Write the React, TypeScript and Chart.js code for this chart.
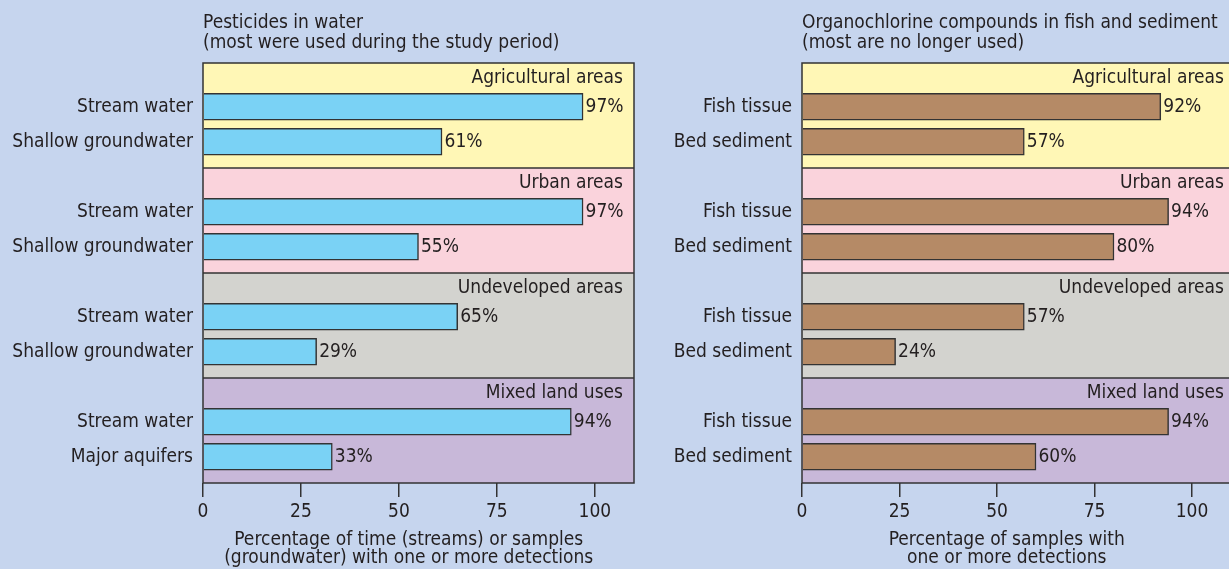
import React, { useEffect, useRef } from 'react';
import { Chart, registerables } from 'chart.js';
Chart.register(...registerables);

const sectionNames = ['Agricultural areas', 'Urban areas', 'Undeveloped areas', 'Mixed land uses'];
const sectionColors = ['#fff7b6', '#fad3dc', '#d3d3cf', '#c8b8d9'];

const pesticideLabels = ['Stream water', 'Shallow groundwater', 'Stream water', 'Shallow groundwater', 'Stream water', 'Shallow groundwater', 'Stream water', 'Major aquifers'];
const pesticideValues = [97, 61, 97, 55, 65, 29, 94, 33];
const organoLabels = ['Fish tissue', 'Bed sediment', 'Fish tissue', 'Bed sediment', 'Fish tissue', 'Bed sediment', 'Fish tissue', 'Bed sediment'];
const organoValues = [92, 57, 94, 80, 57, 24, 94, 60];
const xTickValues = [0, 25, 50, 75, 100];

const pesticideTitle = ['Pesticides in water', '(most were used during the study period)'];
const pesticideAxisTitle = ['Percentage of time (streams) or samples', '(groundwater) with one or more detections'];
const organoTitle = ['Organochlorine compounds in fish and sediment', '(most are no longer used)'];
const organoAxisTitle = ['Percentage of samples with', 'one or more detections'];

const FONT = '"DejaVu Sans Condensed", "DejaVu Sans", sans-serif';
const TEXT = '#231f20';
const LINE = '#333333';
const ROWS = 6;
const BAR_ROWS = [2, 4];

function buildRows(labels: string[], values: number[]) {
  const rowLabels: string[] = [];
  const rowValues: (number | null)[] = [];
  sectionNames.forEach((_, k) => {
    for (let r = 0; r < ROWS; r++) {
      const b = BAR_ROWS.indexOf(r);
      if (b >= 0) {
        rowLabels.push(labels[k * 2 + b]);
        rowValues.push(values[k * 2 + b]);
      } else {
        rowLabels.push('');
        rowValues.push(null);
      }
    }
  });
  return { rowLabels, rowValues };
}

const sectionPlugin = {
  id: 'sections',
  beforeDatasetsDraw(chart: any) {
    const ctx = chart.ctx;
    const y = chart.scales.y;
    const { left, right } = chart.chartArea;
    const rowH = y.getPixelForValue(1) - y.getPixelForValue(0);
    ctx.save();
    sectionNames.forEach((_, k) => {
      const top = y.getPixelForValue(k * ROWS) - rowH / 2;
      const bottom = y.getPixelForValue(k * ROWS + ROWS - 1) + rowH / 2;
      ctx.fillStyle = sectionColors[k];
      ctx.fillRect(left, top, right - left, bottom - top);
    });
    ctx.restore();
  },
  afterDatasetsDraw(chart: any) {
    const ctx = chart.ctx;
    const y = chart.scales.y;
    const x = chart.scales.x;
    const { left, right, top: aTop, bottom: aBottom } = chart.chartArea;
    const rowH = y.getPixelForValue(1) - y.getPixelForValue(0);
    const inset: number = chart.options.plugins.axisTitle.inset;
    ctx.save();
    ctx.strokeStyle = LINE;
    ctx.lineWidth = 1.5;
    ctx.font = `19px ${FONT}`;
    sectionNames.forEach((name, k) => {
      const top = y.getPixelForValue(k * ROWS) - rowH / 2;
      if (k > 0) {
        ctx.beginPath();
        ctx.moveTo(left, top);
        ctx.lineTo(right, top);
        ctx.stroke();
      }
      ctx.fillStyle = TEXT;
      ctx.textAlign = 'right';
      ctx.textBaseline = 'middle';
      ctx.fillText(name, right - inset, top + 15);
    });
    ctx.strokeRect(left, aTop, right - left, aBottom - aTop);
    const meta = chart.getDatasetMeta(0);
    const data = chart.data.datasets[0].data;
    ctx.textAlign = 'left';
    ctx.textBaseline = 'middle';
    ctx.fillStyle = TEXT;
    meta.data.forEach((bar: any, i: number) => {
      const v = data[i];
      if (v === null || v === undefined) return;
      ctx.fillText(`${v}%`, bar.x + 2.5, bar.y);
    });
    // x-axis title (two centered lines)
    const lines: string[] = chart.options.plugins.axisTitle.lines;
    const cx = x.getPixelForValue(52.5);
    ctx.textAlign = 'center';
    lines.forEach((ln, i) => {
      ctx.fillText(ln, cx, 540 + i * 18);
    });
    ctx.restore();
  },
};

function makeChart(
  canvas: HTMLCanvasElement,
  labels: string[],
  values: number[],
  color: string,
  title: string[],
  axisTitle: string[],
  padding: { left: number; right: number },
  yWidth: number,
  inset: number
) {
  const { rowLabels, rowValues } = buildRows(labels, values);
  return new Chart(canvas, {
    type: 'bar',
    data: {
      labels: rowLabels,
      datasets: [
        {
          data: rowValues,
          backgroundColor: color,
          borderColor: LINE,
          borderWidth: 1.5,
          barThickness: 27,
        },
      ],
    },
    options: {
      indexAxis: 'y',
      responsive: false,
      animation: false,
      layout: { padding: { left: padding.left, right: padding.right, top: 0, bottom: 0 } },
      plugins: {
        legend: { display: false },
        tooltip: { enabled: false },
        axisTitle: { lines: axisTitle, inset },
        title: {
          display: true,
          text: title,
          align: 'start',
          fullSize: false,
          color: TEXT,
          font: { family: FONT, size: 19, lineHeight: 20 / 19, weight: 'normal' },
          padding: { top: 13, bottom: 10 },
        },
      },
      scales: {
        x: {
          type: 'linear',
          min: 0,
          max: 110,
          afterBuildTicks: (scale: any) => {
            scale.ticks = xTickValues.map((v) => ({ value: v }));
          },
          afterFit: (scale: any) => {
            scale.height = 86;
          },
          grid: {
            drawOnChartArea: false,
            drawTicks: true,
            tickLength: 14,
            color: LINE,
            lineWidth: 1.5,
          },
          border: { display: false },
          ticks: {
            color: TEXT,
            padding: 4,
            font: { family: FONT, size: 19 },
            callback: (v: any) => String(v),
          },
          title: { display: false },
        },
        y: {
          type: 'category',
          afterFit: (scale: any) => {
            scale.width = yWidth;
          },
          grid: { display: false, drawTicks: false },
          border: { display: false },
          ticks: {
            color: TEXT,
            padding: 10,
            autoSkip: false,
            font: { family: FONT, size: 19 },
          },
        },
      },
    },
    plugins: [sectionPlugin],
  } as any);
}

export default function App() {
  const leftRef = useRef<HTMLCanvasElement>(null);
  const rightRef = useRef<HTMLCanvasElement>(null);

  useEffect(() => {
    const a = makeChart(
      leftRef.current!,
      pesticideLabels,
      pesticideValues,
      '#7ad2f5',
      pesticideTitle,
      pesticideAxisTitle,
      { left: 0, right: 1229 - 634 },
      203,
      11
    );
    const b = makeChart(
      rightRef.current!,
      organoLabels,
      organoValues,
      '#b58a66',
      organoTitle,
      organoAxisTitle,
      { left: 650, right: 9 },
      152,
      7
    );
    return () => {
      a.destroy();
      b.destroy();
    };
  }, []);

  return (
    <div
      style={{
        position: 'fixed',
        left: 0,
        top: 0,
        width: 1229,
        height: 569,
        overflow: 'hidden',
        background: '#c6d5ee',
      }}
    >
      <canvas ref={leftRef} width={1229} height={569} style={{ position: 'absolute', left: 0, top: 0, width: 1229, height: 569 }} />
      <canvas ref={rightRef} width={1240} height={569} style={{ position: 'absolute', left: 0, top: 0, width: 1240, height: 569 }} />
    </div>
  );
}
